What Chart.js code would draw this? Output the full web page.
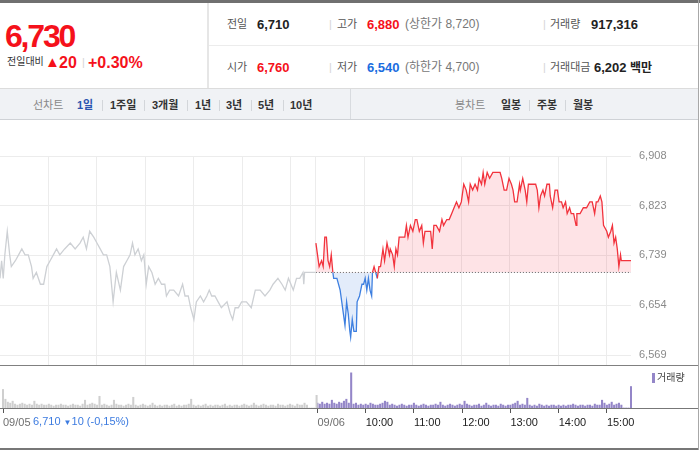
<!DOCTYPE html>
<html lang="ko">
<head>
<meta charset="utf-8">
<title>주가 차트</title>
<script src="https://cdn.jsdelivr.net/npm/chart.js@4.4.1/dist/chart.umd.min.js"></script>
<style>
  html, body { margin: 0; padding: 0; background: #fff; }
  body { width: 700px; height: 450px; overflow: hidden; position: relative;
         font-family: "Liberation Sans", "Noto Sans CJK KR", sans-serif; }
  .t { position: absolute; white-space: nowrap; line-height: 1; }
  .ln { position: absolute; }
  .lab { font-size: 11px; color: #555; }
  .val { font-size: 13px; font-weight: bold; color: #222; }
  .sub { font-size: 12px; color: #777; }
  .bar { font-size: 11px; color: #d6d6d6; }
  .red { color: #f5111b; }
  .blue { color: #1a6de0; }
  .tab { font-size: 11px; font-weight: bold; color: #333; }
  .tabg { font-size: 11px; color: #888; }
  .tsep { position: absolute; top: 100px; width: 1px; height: 11px; background: #d3d6da; }
  canvas { position: absolute; left: 0; }
</style>
</head>
<body>
<!-- header frame -->
<div class="ln" style="left:0;top:0;width:700px;height:3px;background:#707070"></div>
<div class="ln" style="left:207px;top:3px;width:2px;height:85px;background:#e6e6e6"></div>
<div class="ln" style="left:209px;top:45px;width:489px;height:1px;background:#ececec"></div>

<!-- current price -->
<div class="t red" style="left:5px;top:20px;font-size:32px;font-weight:bold;letter-spacing:-2.2px">6,730</div>
<div class="t" style="left:7px;top:57px;font-size:10px;color:#333">전일대비</div>
<div class="t red" style="left:45px;top:54px;font-size:15px">▲</div>
<div class="t red" style="left:59px;top:55px;font-size:16px;font-weight:bold">20</div>
<div class="t bar" style="left:82px;top:57px">|</div>
<div class="t red" style="left:88px;top:55px;font-size:16px;font-weight:bold">+0.30%</div>

<!-- summary row 1 -->
<div class="t lab" style="left:227px;top:18.5px">전일</div>
<div class="t val" style="left:257px;top:18px">6,710</div>
<div class="t bar" style="left:329px;top:18.5px">|</div>
<div class="t lab" style="left:337px;top:18.5px">고가</div>
<div class="t val red" style="left:367px;top:18px">6,880</div>
<div class="t sub" style="left:405px;top:18.2px">(상한가 8,720)</div>
<div class="t bar" style="left:543px;top:18.5px">|</div>
<div class="t lab" style="left:550px;top:18.5px">거래량</div>
<div class="t val" style="left:591px;top:18px">917,316</div>

<!-- summary row 2 -->
<div class="t lab" style="left:227px;top:61.5px">시가</div>
<div class="t val red" style="left:257px;top:61px">6,760</div>
<div class="t bar" style="left:329px;top:61.5px">|</div>
<div class="t lab" style="left:337px;top:61.5px">저가</div>
<div class="t val blue" style="left:367px;top:61px">6,540</div>
<div class="t sub" style="left:405px;top:61.2px">(하한가 4,700)</div>
<div class="t bar" style="left:543px;top:61.5px">|</div>
<div class="t lab" style="left:550px;top:61.5px">거래대금</div>
<div class="t val" style="left:594px;top:61px">6,202</div>
<div class="t" style="left:630px;top:61.5px;font-size:12px;font-weight:bold;color:#222">백만</div>

<!-- period tabs -->
<div class="ln" style="left:0;top:88px;width:698px;height:30px;background:#f0f2f5;border-top:1px solid #dcdcdc;border-bottom:1px solid #cfd2d6"></div>
<div class="ln" style="left:350px;top:89px;width:1px;height:30px;background:#d8dbdf"></div>
<div class="t tabg" style="left:33px;top:99.7px">선차트</div>
<div class="t tab" style="left:77px;top:99.7px;color:#2a55b0">1일</div>
<div class="tsep" style="left:102px"></div>
<div class="t tab" style="left:110px;top:99.7px">1주일</div>
<div class="tsep" style="left:144px"></div>
<div class="t tab" style="left:152px;top:99.7px">3개월</div>
<div class="tsep" style="left:187px"></div>
<div class="t tab" style="left:195px;top:99.7px">1년</div>
<div class="tsep" style="left:219px"></div>
<div class="t tab" style="left:226px;top:99.7px">3년</div>
<div class="tsep" style="left:251px"></div>
<div class="t tab" style="left:258px;top:99.7px">5년</div>
<div class="tsep" style="left:283px"></div>
<div class="t tab" style="left:290px;top:99.7px">10년</div>
<div class="t tabg" style="left:455px;top:99.7px">봉차트</div>
<div class="t tab" style="left:501px;top:99.7px">일봉</div>
<div class="tsep" style="left:529px"></div>
<div class="t tab" style="left:537px;top:99.7px">주봉</div>
<div class="tsep" style="left:565px"></div>
<div class="t tab" style="left:573px;top:99.7px">월봉</div>

<!-- charts: the price canvas is 15px taller than its plot so the axis label padding falls under the volume panel -->
<canvas id="priceChart" width="698" height="260" style="top:120px"></canvas>
<div class="ln" style="left:0;top:365px;width:698px;height:85px;background:#fff"></div>
<div class="ln" style="left:0;top:365px;width:698px;height:1px;background:#808080"></div>
<canvas id="volumeChart" width="698" height="84" style="top:366px"></canvas>
<div class="ln" style="left:0;top:408px;width:698px;height:1px;background:#777"></div>
<div class="ln" style="left:0;top:448px;width:698px;height:2px;background:#777"></div>
<div class="ln" style="left:698px;top:0;width:1px;height:450px;background:#a8a8a8"></div>

<div class="ln" style="left:652px;top:373px;width:3px;height:10px;background:#9486c8"></div>
<div class="t" style="left:657px;top:373px;font-size:10px;color:#444">거래량</div>
<div class="t" style="left:33px;top:415.7px;font-size:11px;color:#3c7be0">6,710 <span style="font-size:8px">▼</span>10 (-0,15%)</div>

<script>
// minutes counted from 09/05 09:00; 09/06 09:00 is minute 391
const basePrice = 6710;

const prevMinutes = [
  0, 2, 4, 6, 9, 12, 14, 19, 23, 27,
  31, 35, 39, 41, 45, 50, 54, 58, 62, 66,
  70, 74, 80, 87, 93, 99, 103, 107, 111, 116,
  120, 124, 128, 132, 136, 140, 144, 149, 153, 157,
  161, 164, 167, 171, 175, 178, 181, 184, 188, 192,
  196, 200, 204, 206, 210, 215, 221, 226, 229, 233,
  236, 240, 243, 248, 252, 256, 259, 262, 266, 270,
  274, 281, 285, 288, 291, 295, 299, 305, 311, 316,
  322, 328, 334, 338, 344, 349, 353, 357, 363, 367,
  371, 375, 376, 377, 380, 390
];
const prevPrices = [
  6700, 6730, 6700, 6740, 6780, 6740, 6720, 6730, 6740, 6750,
  6740, 6740, 6720, 6700, 6710, 6690, 6690, 6720, 6730, 6740,
  6750, 6740, 6750, 6760, 6750, 6760, 6770, 6750, 6780, 6770,
  6760, 6750, 6740, 6740, 6720, 6660, 6710, 6680, 6720, 6730,
  6740, 6760, 6740, 6750, 6730, 6740, 6690, 6720, 6710, 6690,
  6700, 6690, 6690, 6670, 6680, 6680, 6670, 6690, 6670, 6670,
  6650, 6630, 6660, 6670, 6660, 6670, 6680, 6670, 6670, 6660,
  6650, 6660, 6640, 6630, 6650, 6650, 6660, 6660, 6650, 6680,
  6680, 6670, 6680, 6690, 6700, 6690, 6680, 6700, 6680, 6700,
  6700, 6710, 6690, 6710, 6710, 6710
];

const todayMinutes = [
  391, 393, 395, 398, 400, 402, 404, 406, 408, 410,
  412, 413, 417, 421, 423, 425, 427, 429, 431, 433,
  434, 436, 438, 441, 442, 445, 448, 450, 452, 454,
  456, 458, 460, 461, 463, 465, 467, 469, 471, 472,
  474, 476, 479, 482, 483, 486, 488, 490, 492, 494,
  497, 501, 503, 505, 508, 511, 514, 516, 519, 522,
  524, 526, 530, 533, 535, 537, 540, 544, 547, 549,
  553, 556, 559, 562, 565, 568, 571, 574, 577, 580,
  582, 585, 588, 591, 593, 596, 598, 600, 603, 606,
  610, 615, 619, 621, 624, 627, 630, 633, 635, 637,
  640, 643, 644, 647, 650, 652, 654, 657, 660, 663,
  665, 667, 669, 672, 674, 677, 680, 681, 684, 687,
  690, 692, 695, 697, 700, 702, 705, 707, 710, 713,
  714, 718, 722, 726, 730, 733, 736, 738, 740, 743,
  745, 747, 751, 753, 756, 758, 760, 762, 764, 766,
  768, 769, 781
];
const todayPrices = [
  6760, 6740, 6720, 6730, 6720, 6770, 6770, 6730, 6720, 6740,
  6710, 6700, 6700, 6680, 6660, 6640, 6620, 6660, 6640, 6610,
  6600, 6630, 6610, 6610, 6660, 6670, 6690, 6690, 6700, 6680,
  6700, 6680, 6670, 6710, 6720, 6710, 6700, 6720, 6720, 6730,
  6750, 6730, 6760, 6740, 6750, 6740, 6720, 6750, 6740, 6770,
  6770, 6770, 6790, 6770, 6790, 6780, 6800, 6800, 6780, 6790,
  6760, 6780, 6780, 6780, 6750, 6790, 6790, 6780, 6800, 6790,
  6800, 6800, 6810, 6820, 6830, 6820, 6830, 6860, 6850, 6830,
  6860, 6850, 6860, 6850, 6870, 6860, 6880, 6860, 6880, 6870,
  6880, 6880, 6880, 6870, 6850, 6850, 6870, 6860, 6850, 6830,
  6830, 6860, 6850, 6870, 6850, 6830, 6860, 6860, 6860, 6860,
  6850, 6820, 6840, 6850, 6840, 6860, 6860, 6840, 6820, 6850,
  6850, 6830, 6830, 6820, 6830, 6810, 6820, 6810, 6810, 6790,
  6810, 6810, 6820, 6820, 6830, 6830, 6810, 6830, 6830, 6840,
  6830, 6790, 6780, 6770, 6780, 6790, 6760, 6770, 6750, 6720,
  6740, 6730, 6730
];

const priceTicks = [6569, 6654, 6739, 6823, 6908];
const gridMinutes = [60, 120, 180, 240, 300, 360, 391, 451, 511, 571, 631, 691, 751];
const timeTickMinutes = [0, 391, 451, 511, 571, 631, 691, 751];
const timeTickLabels = ["09/05", "09/06", "10:00", "11:00", "12:00", "13:00", "14:00", "15:00"];

// volume in thousand shares, one bar per 3 minutes
const volStep = 3;
const prevVolume = [
  19, 9, 6, 5, 7, 4, 3, 4, 5, 4,
  3, 4, 3, 7, 4, 3, 4, 3, 3, 4,
  3, 2, 3, 3, 4, 3, 3, 2, 3, 4,
  3, 3, 2, 4, 8, 3, 4, 5, 4, 3,
  12, 3, 4, 3, 2, 3, 8, 4, 3, 3,
  2, 3, 4, 3, 11, 3, 2, 3, 4, 3,
  2, 3, 5, 3, 2, 3, 2, 3, 3, 2,
  3, 4, 2, 3, 2, 3, 3, 4, 9, 3,
  2, 3, 2, 3, 4, 2, 3, 2, 3, 3,
  2, 3, 4, 2, 3, 2, 3, 3, 2, 3,
  4, 3, 2, 3, 5, 3, 2, 3, 4, 3,
  2, 3, 3, 2, 4, 3, 3, 2, 3, 4,
  3, 2, 4, 3, 3, 5, 3, 0, 0, 0,
  13
];
const todayVolume = [
  5, 4, 6, 4, 5, 4, 8, 5, 4, 6,
  5, 7, 9, 5, 36, 4, 5, 3, 4, 3,
  4, 3, 5, 4, 3, 3, 4, 5, 7, 6,
  3, 4, 3, 2, 3, 4, 3, 2, 3, 3,
  5, 3, 2, 3, 4, 3, 2, 3, 3, 4,
  3, 6, 3, 2, 3, 4, 3, 2, 3, 4,
  3, 7, 4, 3, 2, 3, 3, 4, 2, 3,
  5, 3, 2, 3, 3, 2, 4, 3, 2, 3,
  3, 4, 5, 7, 3, 4, 3, 10, 3, 2,
  3, 2, 4, 3, 2, 3, 2, 3, 3, 2,
  3, 2, 3, 2, 3, 3, 4, 3, 2, 3,
  3, 2, 3, 3, 2, 4, 3, 3, 8, 5,
  3, 4, 6, 3, 4, 5, 3, 0, 0, 0,
  22
];

const redLine = "#f2333d";
const blueLine = "#3d7fe0";
const gridColor = "#ececec";
const xMax = todayMinutes[todayMinutes.length - 1];

function toPoints(xs, ys) {
  return xs.map((x, i) => ({ x: x, y: ys[i] }));
}

new Chart(document.getElementById("priceChart"), {
  type: "line",
  data: {
    datasets: [
      {
        label: "전일종가",
        data: [{ x: todayMinutes[0], y: basePrice }, { x: xMax, y: basePrice }],
        borderColor: "#666",
        borderWidth: 1,
        borderDash: [1, 2],
        pointRadius: 0,
        fill: false,
        order: 0,
      },
      {
        label: "09/06",
        data: toPoints(todayMinutes, todayPrices),
        borderColor: redLine,
        borderWidth: 1.3,
        pointRadius: 0,
        tension: 0,
        fill: {
          target: { value: basePrice },
          above: "rgba(250, 60, 80, 0.14)",
          below: "rgba(60, 120, 220, 0.14)",
        },
        segment: {
          borderColor: (c) => ((c.p0.parsed.y + c.p1.parsed.y) / 2 < basePrice ? blueLine : redLine),
        },
        order: 1,
      },
      {
        label: "09/05",
        data: toPoints(prevMinutes, prevPrices),
        borderColor: "#cdd0d4",
        borderWidth: 1.3,
        pointRadius: 0,
        tension: 0,
        fill: false,
        order: 2,
      },
    ],
  },
  options: {
    responsive: false,
    animation: false,
    events: [],
    layout: { padding: { top: 36, left: 0, right: 0, bottom: 0 } },
    plugins: { legend: { display: false }, tooltip: { enabled: false } },
    scales: {
      x: {
        type: "linear",
        min: 0,
        max: xMax,
        afterBuildTicks: (s) => { s.ticks = gridMinutes.map((v) => ({ value: v })); },
        ticks: { display: false },
        grid: { color: gridColor, drawTicks: false },
        border: { display: false },
        afterFit: (s) => { s.height = 0; },
      },
      y: {
        position: "right",
        min: 6552,
        max: 6908,
        afterBuildTicks: (s) => { s.ticks = priceTicks.map((v) => ({ value: v })); },
        ticks: {
          color: "#8a8a8a",
          font: { family: "Liberation Sans", size: 11, lineHeight: 1.2 },
          padding: 8,
          callback: (v) => v.toLocaleString("en-US"),
        },
        grid: { color: gridColor, drawTicks: false },
        border: { display: false },
        afterFit: (s) => { s.width = 67; },
      },
    },
  },
});

const prevBars = prevVolume.map((v, i) => ({ x: i * volStep, y: v }));
const todayBars = todayVolume.map((v, i) => ({ x: todayMinutes[0] + i * volStep, y: v }));

new Chart(document.getElementById("volumeChart"), {
  type: "bar",
  data: {
    datasets: [
      { label: "09/05 거래량", data: prevBars, backgroundColor: "#cfcfcf", barThickness: 1.4, grouped: false, clip: false },
      { label: "거래량", data: todayBars, backgroundColor: "#9486c8", barThickness: 1.4, grouped: false, clip: false },
    ],
  },
  options: {
    responsive: false,
    animation: false,
    events: [],
    layout: { padding: { top: 0, left: 0, right: 67, bottom: 0 } },
    plugins: { legend: { display: false }, tooltip: { enabled: false } },
    scales: {
      x: {
        type: "linear",
        min: 0,
        max: xMax,
        offset: false,
        afterBuildTicks: (s) => { s.ticks = timeTickMinutes.map((v) => ({ value: v })); },
        ticks: {
          autoSkip: false,
          maxRotation: 0,
          align: "start",
          padding: 3,
          color: (c) => (c.index < 2 ? "#6f6f6f" : "#222"),
          font: { family: "Liberation Sans", size: 11 },
          callback: (v, i) => timeTickLabels[i],
        },
        grid: { offset: false, drawOnChartArea: false, drawTicks: true, tickLength: 5, tickColor: "#555" },
        border: { display: false },
        afterFit: (s) => { s.height = 42; },
      },
      y: { display: false, min: 0, max: 43 },
    },
  },
});
</script>
</body>
</html>
